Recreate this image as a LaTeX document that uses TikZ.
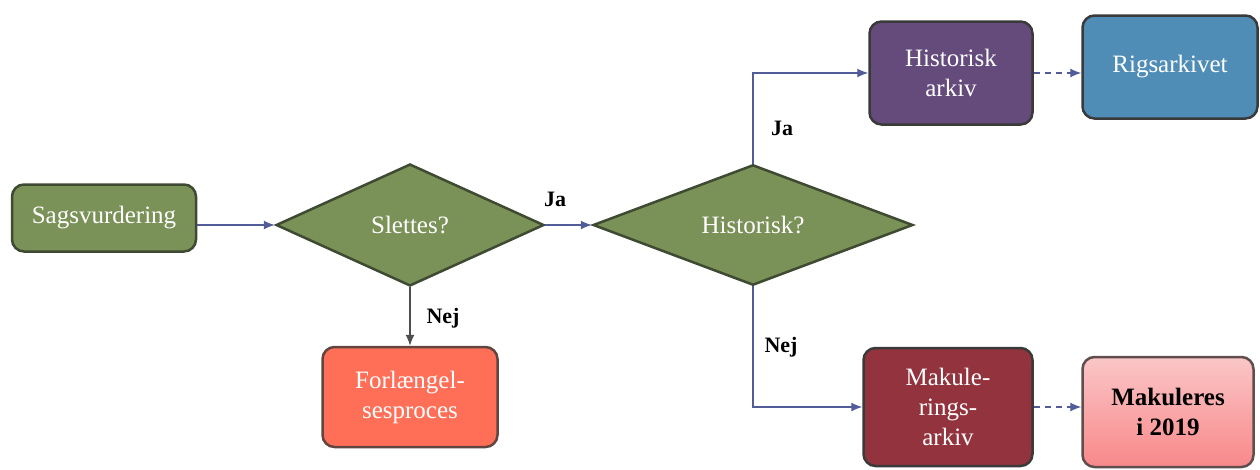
\documentclass[tikz,border=0pt]{standalone}
\usepackage{fontspec}
\setmainfont{Liberation Serif}
\usetikzlibrary{shapes.geometric,arrows.meta}
\definecolor{gfill}{HTML}{7A9157}
\definecolor{gline}{HTML}{3F4A33}
\definecolor{pfill}{HTML}{654A7C}
\definecolor{bfill}{HTML}{4F8DB6}
\definecolor{rfill}{HTML}{93333E}
\definecolor{ofill}{HTML}{FF6F58}
\definecolor{kfill}{HTML}{F7A0A2}
\definecolor{arr}{HTML}{525C98}
\definecolor{bline}{HTML}{3A3A3A}
\tikzset{
  box/.style={draw=bline, line width=2.5pt, rounded corners=12pt, inner sep=0pt, align=center,
    text=white, font=\fontsize{25}{30}\selectfont},
  dia/.style={diamond, draw=gline, line width=2.5pt, fill=gfill, inner sep=0pt, text=white,
    font=\fontsize{25}{30}\selectfont},
  conn/.style={draw=arr, line width=1.2pt, -{Latex[length=11pt,width=9pt]}},
  dconn/.style={conn, dashed, dash pattern=on 6pt off 5pt},
  lbl/.style={font=\bfseries\fontsize{22}{26}\selectfont, text=black, inner sep=0pt}
}
\begin{document}
\begin{tikzpicture}[x=1pt,y=-1pt]
\useasboundingbox (0,0) rectangle (1260,469);
\node[box, fill=gfill, draw=gline, minimum width=184pt, minimum height=67pt] (sags) at (104,218) {Sagsvurdering};
\node[dia, minimum width=268pt, minimum height=122pt] (slet) at (410,225) {Slettes?};
\node[dia, minimum width=320pt, minimum height=118pt] (hist) at (753,225) {Historisk?};
\node[box, fill=pfill, minimum width=163pt, minimum height=103pt] (harkiv) at (951,73) {Historisk\\arkiv};
\node[box, fill=bfill, minimum width=175pt, minimum height=103pt] (rigs) at (1170,67) {Rigsarkivet};
\node[box, fill=ofill, draw=bline!80!ofill, minimum width=175pt, minimum height=100pt] (forl) at (410,397) {Forlængel-\\sesproces};
\node[box, fill=rfill, minimum width=169pt, minimum height=118pt] (makul) at (948,407) {Makule-\\rings-\\arkiv};
\node[box, top color=kfill!60!white, bottom color=kfill!85!red, draw=bline!80!kfill, text=black,
  font=\bfseries\fontsize{25}{30}\selectfont, minimum width=171pt, minimum height=110pt] (mak19) at (1168,412) {Makuleres\\i 2019};

\draw[conn] (sags.east |- slet.west) -- (slet.west);
\draw[conn] (slet.east) -- (hist.west);
\draw[conn, draw=bline!90] (slet.south) -- (forl.north);
\draw[conn] (hist.north) -- (hist.north |- harkiv.west) -- (harkiv.west);
\draw[conn] (hist.south) -- (hist.south |- makul.west) -- (makul.west);
\draw[dconn] (harkiv.east) -- (harkiv.east -| rigs.west);
\draw[dconn] (makul.east) -- (makul.east -| mak19.west);

\node[lbl] (ja1) at (555,199) {Ja};
\node[lbl] (ja2) at (782,128) {Ja};
\node[lbl] (nej1) at (443,318) {Nej};
\node[lbl] (nej2) at (781,347) {Nej};
\end{tikzpicture}
\end{document}
